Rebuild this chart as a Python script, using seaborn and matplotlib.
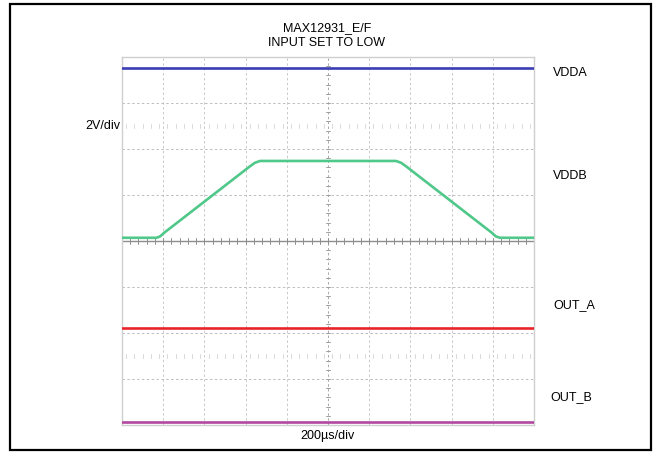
import numpy as np
import pandas as pd
import matplotlib
matplotlib.use("Agg")
import matplotlib.pyplot as plt
import seaborn as sns
from matplotlib.patches import Rectangle

# time in microseconds (200us/div, 10 divisions), level in screen divisions
vdda_t = [0, 2000]
vdda_y = [3.76, 3.76]

vddb_t = [0, 168, 185, 205, 620, 645, 670, 1330, 1355, 1380, 1795, 1815, 1835, 2000]
vddb_y = [0.07, 0.07, 0.10, 0.18, 1.62, 1.70, 1.74, 1.74, 1.70, 1.62, 0.18, 0.10, 0.07, 0.07]

out_a_t = [0, 2000]
out_a_y = [-1.90, -1.90]

out_b_t = [0, 2000]
out_b_y = [-3.93, -3.93]

channel_names = ["VDDA", "VDDB", "OUT_A", "OUT_B"]
channel_colors = ["#3a3db3", "#4fc88a", "#e8242a", "#b2489f"]
label_y = [0.840, 0.614, 0.331, 0.129]
label_x = [0.842, 0.842, 0.842, 0.837]

frames = []
for name, t, y in zip(channel_names,
                      [vdda_t, vddb_t, out_a_t, out_b_t],
                      [vdda_y, vddb_y, out_a_y, out_b_y]):
    frames.append(pd.DataFrame({"time": t, "level": y, "channel": name}))
traces = pd.concat(frames, ignore_index=True)

sns.set_style("white")
plt.rcParams["font.family"] = ["Liberation Sans", "DejaVu Sans"]
plt.rcParams["text.color"] = "black"

fig = plt.figure(figsize=(6.57, 4.56), dpi=100)
ax = fig.add_axes([122 / 657, 1 - 426 / 456, 412 / 657, 368 / 456])

# scope graticule
for xv in np.arange(200, 2000, 200):
    if xv != 1000:
        ax.axvline(xv, color="#c9c9c9", lw=0.7, ls=(0, (2.5, 2.5)), zorder=1)
for yv in range(-3, 4):
    if yv != 0:
        ax.axhline(yv, color="#bdbdbd", lw=0.7, ls=(0, (2.5, 2.5)), zorder=1)
ax.axhline(0, color="#8e8e8e", lw=1.0, zorder=1)
ax.axvline(1000, color="#a8a8a8", lw=0.7, ls=(0, (2.5, 2.5)), zorder=1)
for xv in np.arange(40, 2000, 40):
    ax.plot([xv, xv], [-0.06, 0.06], color="#8e8e8e", lw=0.7, zorder=1)
for yv in np.arange(-3.8, 4, 0.2):
    if abs(yv) > 0.01:
        ax.plot([990, 1010], [yv, yv], color="#a0a0a0", lw=0.7, zorder=1)
# faint sample marks in a couple of rows
for xv in np.arange(20, 2000, 40):
    for row in (2.5, -2.5):
        ax.plot([xv, xv], [row - 0.05, row + 0.05], color="#d8d8d8", lw=0.7, zorder=1)

sns.lineplot(data=traces, x="time", y="level", hue="channel",
             palette=dict(zip(channel_names, channel_colors)),
             hue_order=channel_names, linewidth=1.9, legend=False,
             sort=False, estimator=None, ax=ax, zorder=3)

ax.set_xlim(0, 2000)
ax.set_ylim(-4, 4)
ax.set_xticks([])
ax.set_yticks([])
ax.set_xlabel("")
ax.set_ylabel("")
for sp in ax.spines.values():
    sp.set_color("#cfcfcf")
    sp.set_linewidth(1.0)

# outer frame
fig.patches.append(Rectangle((10 / 657, 5 / 456), 641 / 657, 446 / 456,
                             transform=fig.transFigure, fill=False,
                             edgecolor="black", linewidth=1.6))

fig.text(327 / 657, 0.939, "MAX12931_E/F", ha="center", va="center", fontsize=9)
fig.text(327 / 657, 0.906, "INPUT SET TO LOW", ha="center", va="center", fontsize=9)
fig.text(120 / 657, 0.724, "2V/div", ha="right", va="center", fontsize=9)
fig.text(327 / 657, 0.044, "200µs/div", ha="center", va="center", fontsize=9)
for name, lx, ly in zip(channel_names, label_x, label_y):
    fig.text(lx, ly, name, ha="left", va="center", fontsize=9)

fig.savefig("out.png", dpi=100)
